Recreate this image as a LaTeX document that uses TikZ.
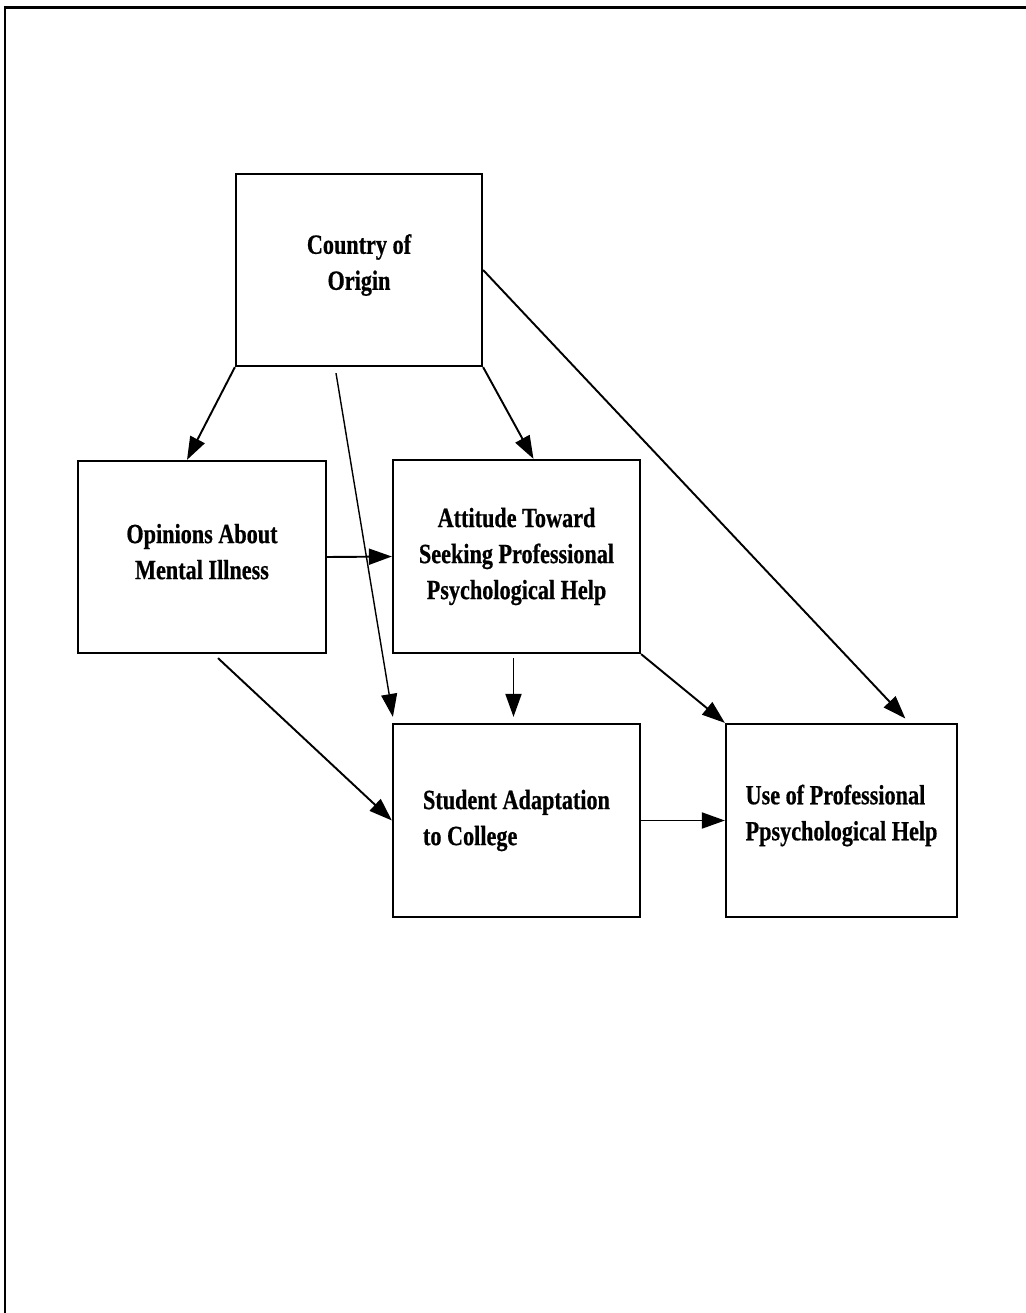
\documentclass[tikz,border=0pt]{standalone}
\usepackage{fontspec}
\newfontfamily\boxfont{Liberation Serif}[FakeStretch=0.8, FakeBold=0.6]
\usepackage{tikz}
\usetikzlibrary{arrows.meta,calc}

\begin{document}
\begin{tikzpicture}[
    x=0.02cm, y=-0.02cm,
    >={Triangle[length=0.46cm,width=0.32cm]},
    box/.style={draw, line width=1.3pt, minimum width=4.94cm, minimum height=3.86cm, align=center,
                font=\boxfont\bfseries\fontsize{15.8}{20.5}\selectfont},
    arrow/.style={->, line width=1.1pt},
    thinarrow/.style={->, line width=0.8pt}
]
\useasboundingbox (0,0) rectangle (1026,1313);

% ---- Page frame ----
\draw[line width=1.7pt] (5,1313) -- (5,7) -- (1026,7);

% ---- Boxes ----
\node[box, minimum width=4.92cm, minimum height=3.84cm] (country) at (359,270) {Country of\\Origin\\[-0.4cm]};
\node[box, minimum width=4.96cm, minimum height=3.84cm] (opinions) at (202,557) {Opinions About\\Mental Illness\\[-0.5cm]};
\node[box] (attitude) at (516.5,556.5) {Attitude Toward\\Seeking Professional\\Psychological Help};
\node[box, align=left] (student) at (516.5,820.5) {Student Adaptation\\to College};
\node[box, align=left, minimum width=4.62cm] (use) at (841.5,820.5) {Use of Professional\\Ppsychological Help\\[-0.4cm]};

% ---- Arrows from country ----
\draw[arrow] (country.south west) -- ([xshift=-0.3cm]opinions.north);
\draw[arrow] (country.south east) -- ([xshift=0.34cm]attitude.north);
\draw[thinarrow, shorten >=0.12cm] ([xshift=-0.46cm, yshift=-0.12cm]country.south) -- ([xshift=0.04cm]student.north west);
\draw[arrow, shorten >=0.12cm] (country.east) -- ([xshift=1.36cm]use.north);

% ---- Middle row ----
\draw[arrow] (opinions.east) -- (attitude.west);
\draw[arrow] ([xshift=0.32cm, yshift=-0.08cm]opinions.south) -- (student.west);
\draw[arrow, shorten >=0.12cm] ([xshift=-0.06cm, yshift=-0.08cm]attitude.south) -- ([xshift=-0.06cm]student.north);
\draw[arrow] (attitude.south east) -- (use.north west);

% ---- Bottom row ----
\draw[arrow] (student.east) -- (use.west);

\end{tikzpicture}
\end{document}
